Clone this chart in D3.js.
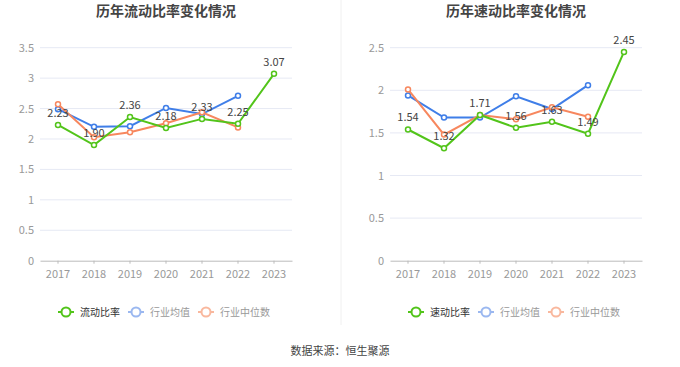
<!DOCTYPE html>
<html><head><meta charset="utf-8">
<script src="https://cdn.jsdelivr.net/npm/d3@7"></script>
<style>body{margin:0;background:#fff;}svg{display:block;font-family:"Noto Sans CJK SC","Noto Sans",sans-serif;}</style>
</head><body>
<svg id="c" width="680" height="367"></svg>
<script>
const years = ["2017","2018","2019","2020","2021","2022","2023"];
const currentRatio = [2.23, 1.90, 2.36, 2.18, 2.33, 2.25, 3.07];
const currentIndustryMean = [2.49, 2.20, 2.21, 2.51, 2.41, 2.71, null];
const currentIndustryMedian = [2.57, 2.03, 2.11, 2.26, 2.44, 2.19, null];
const quickRatio = [1.54, 1.32, 1.71, 1.56, 1.63, 1.49, 2.45];
const quickIndustryMean = [1.94, 1.68, 1.68, 1.93, 1.78, 2.06, null];
const quickIndustryMedian = [2.01, 1.48, 1.71, 1.66, 1.80, 1.69, null];
const currentTicks = [0, 0.5, 1, 1.5, 2, 2.5, 3, 3.5];
const quickTicks = [0, 0.5, 1, 1.5, 2, 2.5];
const legendNames1 = ["流动比率", "行业均值", "行业中位数"];
const legendNames2 = ["速动比率", "行业均值", "行业中位数"];
const titles = ["历年流动比率变化情况", "历年速动比率变化情况"];
const source = "数据来源：恒生聚源";

const colors = ["#52c41a", "#3f7ee8", "#f7875e"];
const legendColors = ["#52c41a", "#9bb8f0", "#f9b89e"];
const svg = d3.select("#c");

function panel(opts) {
  const g = svg.append("g");
  const x = d3.scaleBand().domain(years).range([opts.x0, opts.x1]);
  const y = d3.scaleLinear().domain([0, opts.max]).range([260.7, 47.7]);
  g.append("text").attr("x", (opts.x0 + opts.x1) / 2).attr("y", 16)
    .attr("text-anchor", "middle").attr("font-size", 14).attr("font-weight", "bold")
    .attr("fill", "#444").text(opts.title);
  g.selectAll(".grid").data(opts.ticks.filter(t => t > 0)).join("line")
    .attr("x1", opts.x0).attr("x2", opts.x1)
    .attr("y1", d => y(d)).attr("y2", d => y(d))
    .attr("stroke", "#e6e9f4").attr("stroke-width", 1);
  g.selectAll(".yl").data(opts.ticks).join("text")
    .attr("x", opts.x0 - 6).attr("y", d => y(d) + 4)
    .attr("text-anchor", "end").attr("font-size", 11).attr("fill", "#999")
    .text(d => d);
  const xa = g.append("g").attr("transform", `translate(0,${y(0)})`)
    .call(d3.axisBottom(x).tickSize(3).tickSizeOuter(0));
  xa.select(".domain").attr("stroke", "#bbb");
  xa.selectAll(".tick line").attr("stroke", "#bbb");
  xa.selectAll(".tick text").attr("fill", "#999").attr("font-size", 11)
    .attr("font-family", '"Noto Sans CJK SC","Noto Sans",sans-serif').attr("dy", "1em");
  const series = opts.series;
  [1, 2, 0].forEach(i => {
    const vals = series[i];
    const pts = years.map((yr, j) => ({yr, v: vals[j]})).filter(d => d.v != null);
    const line = d3.line().x(d => x(d.yr) + x.bandwidth() / 2).y(d => y(d.v));
    g.append("path").datum(pts).attr("d", line).attr("fill", "none")
      .attr("stroke", colors[i]).attr("stroke-width", 2);
    g.selectAll(null).data(pts).join("circle")
      .attr("cx", d => x(d.yr) + x.bandwidth() / 2).attr("cy", d => y(d.v))
      .attr("r", 2.5).attr("fill", "#fff").attr("stroke", colors[i]).attr("stroke-width", 1.5);
  });
  const main = years.map((yr, j) => ({yr, v: series[0][j]}));
  g.selectAll(".lbl").data(main).join("text")
    .attr("x", d => x(d.yr) + x.bandwidth() / 2).attr("y", d => y(d.v) - 8)
    .attr("text-anchor", "middle").attr("font-size", 11).attr("fill", "#444")
    .text(d => d.v.toFixed(2));
  let lx = opts.legendX;
  opts.legend.forEach((name, i) => {
    const lg = g.append("g");
    lg.append("line").attr("x1", lx).attr("x2", lx + 16).attr("y1", 312).attr("y2", 312)
      .attr("stroke", legendColors[i]).attr("stroke-width", 2);
    lg.append("circle").attr("cx", lx + 8).attr("cy", 312).attr("r", 4.5)
      .attr("fill", "#fff").attr("stroke", legendColors[i]).attr("stroke-width", 2);
    const t = lg.append("text").attr("x", lx + 22).attr("y", 315.5).attr("font-size", 10)
      .attr("fill", i === 0 ? "#333" : "#999").text(name);
    lx += 22 + t.node().getComputedTextLength() + 8;
  });
}

panel({x0: 40, x1: 292, max: 3.5, ticks: currentTicks, title: titles[0],
  series: [currentRatio, currentIndustryMean, currentIndustryMedian], legend: legendNames1, legendX: 58});
panel({x0: 390, x1: 642, max: 2.5, ticks: quickTicks, title: titles[1],
  series: [quickRatio, quickIndustryMean, quickIndustryMedian], legend: legendNames2, legendX: 408});

svg.append("line").attr("x1", 341).attr("x2", 341).attr("y1", 0).attr("y2", 325)
  .attr("stroke", "#f0f0f0").attr("stroke-width", 1);
svg.append("text").attr("x", 340).attr("y", 355).attr("text-anchor", "middle")
  .attr("font-size", 11).attr("fill", "#444").text(source);
</script>
</body></html>
